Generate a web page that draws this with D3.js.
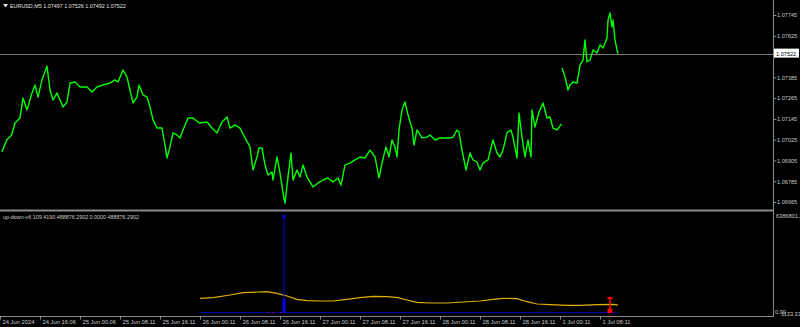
<!DOCTYPE html>
<html>
<head>
<meta charset="utf-8">
<script src="https://cdn.jsdelivr.net/npm/d3@7"></script>
<style>
body { margin: 0; background: #000; }
svg text { font-family: "Liberation Sans", Arial, sans-serif; font-size: 5.8px; fill: #c8c8c8; }
</style>
</head>
<body>
<svg width="800" height="327"></svg>
<script>
// EURUSD M5, hours of trading time counted from the first bar (24 Jun 2024)
var wk1Hours = [0, 0.94, 1.94, 2.6, 3.6, 4.2, 5, 6, 6.6, 7.2, 8, 9, 9.6, 10.2, 11, 11.6, 12.2, 13, 13.6, 14.6,
  15.6, 17, 18, 19, 20.2, 21.6, 22.6, 23.2, 24.2, 25, 25.6, 26.2, 27, 27.4, 28.2, 29, 29.6, 30.2, 31, 32,
  32.6, 33, 33.6, 34.2, 35, 35.6, 36.2, 37.2, 38.2, 39.2, 39.6, 41, 42, 43, 44, 45, 45.6, 46.6, 47.6, 48.6,
  49.6, 50.2, 51, 51.4, 52, 52.6, 53.2, 54, 54.2, 55, 55.6, 56.2, 56.6, 57.2, 57.8, 58.2, 59, 59.6, 60.2, 61,
  61.6, 62.2, 63.2, 64.2, 65.2, 66.2, 67.2, 67.8, 68.6, 69.6, 70.6, 71.6, 72.6, 73.6, 74.6, 75.4, 76, 76.8, 77.4, 78,
  78.6, 79, 79.4, 80, 80.6, 81.2, 82, 82.4, 83, 84, 85, 85.6, 86.6, 87.6, 88.6, 89.6, 90.2, 91, 91.4, 92,
  92.8, 93.6, 94.2, 95, 95.6, 96.2, 97.2, 98.2, 99, 99.6, 100.2, 101, 101.8, 102.2, 103, 103.4, 104, 104.6, 105.2, 105.8,
  106, 106.6, 107.4, 108.2, 109, 109.6, 110.2, 111, 111.9];
var wk1Close = [1.06956, 1.07023, 1.07052, 1.07121, 1.07150, 1.07266, 1.07196, 1.07295, 1.07341, 1.07271, 1.07370, 1.07450, 1.07312, 1.07254, 1.07295, 1.07254, 1.07214, 1.07243, 1.07352, 1.07358,
  1.07329, 1.07329, 1.07300, 1.07329, 1.07341, 1.07352, 1.07370, 1.07358, 1.07427, 1.07387, 1.07312, 1.07237, 1.07271, 1.07341, 1.07283, 1.07271, 1.07214, 1.07139, 1.07092, 1.07092,
  1.06994, 1.06919, 1.06983, 1.07064, 1.07052, 1.07035, 1.07081, 1.07150, 1.07150, 1.07127, 1.07121, 1.07127, 1.07092, 1.07064, 1.07127, 1.07156, 1.07092, 1.07110, 1.07092, 1.07035,
  1.06983, 1.06850, 1.06925, 1.06977, 1.06977, 1.06879, 1.06821, 1.06838, 1.06792, 1.06925, 1.06833, 1.06717, 1.06659, 1.06809, 1.06948, 1.06792, 1.06850, 1.06809, 1.06879, 1.06809,
  1.06781, 1.06752, 1.06775, 1.06792, 1.06804, 1.06781, 1.06804, 1.06763, 1.06879, 1.06890, 1.06908, 1.06925, 1.06919, 1.06965, 1.06925, 1.06804, 1.06890, 1.06983, 1.06925, 1.07023,
  1.06983, 1.06925, 1.07081, 1.07196, 1.07243, 1.07167, 1.07092, 1.06994, 1.07081, 1.07035, 1.07040, 1.07052, 1.07023, 1.07035, 1.07035, 1.07035, 1.07040, 1.07081, 1.07069, 1.06965,
  1.06850, 1.06948, 1.06908, 1.06896, 1.06850, 1.06890, 1.06908, 1.07023, 1.06948, 1.06925, 1.06965, 1.07064, 1.07081, 1.07040, 1.06919, 1.07179, 1.07040, 1.06925, 1.07023, 1.06925,
  1.07196, 1.07098, 1.07185, 1.07237, 1.07150, 1.07156, 1.07092, 1.07081, 1.07116];
var wk2Hours = [112, 112.6, 113.2, 113.6, 114.2, 115, 115.6, 116.2, 116.6, 117, 117.6, 118.2, 119, 119.6, 120.2, 121, 121.2, 121.6, 122, 122.2, 122.6, 123, 123.2];
var wk2Close = [1.07439, 1.07387, 1.07312, 1.07341, 1.07358, 1.07352, 1.07456, 1.07485, 1.07601, 1.07474, 1.07485, 1.07543, 1.07526, 1.07572, 1.07554, 1.07612, 1.07716, 1.07757, 1.07676, 1.07716, 1.07601, 1.07543, 1.07522];
var lastPrice = 1.07522;

var priceTicks = [1.07745, 1.07625, 1.07385, 1.07265, 1.07145, 1.07025, 1.06905, 1.06785, 1.06665];
var timeTickHours = [0, 8, 16, 24, 32, 40, 48, 56, 64, 72, 80, 88, 96, 104, 112, 120];
var timeTickLabels = ["24 Jun 2024", "24 Jun 16:06", "25 Jun 00:06", "25 Jun 08:11", "25 Jun 16:11", "26 Jun 00:11",
  "26 Jun 08:11", "26 Jun 16:11", "27 Jun 00:11", "27 Jun 08:11", "27 Jun 16:11", "28 Jun 00:11",
  "28 Jun 08:11", "28 Jun 16:11", "1 Jul 00:11", "1 Jul 08:11"];

// up-down-v6 indicator
var avgHours = [39.6, 42.2, 45.6, 48.2, 51, 53, 55, 57, 59, 61, 63.6, 66.2, 69, 71.6, 74.2, 77, 79.2, 81, 83, 85.6,
  89, 92.2, 95.6, 98.2, 100.2, 103, 105, 107, 109.6, 113, 115.6, 119, 122.2, 123.2];
var avgValues = [939800, 979500, 1158200, 1310400, 1356800, 1376600, 1270700, 1092000, 873600, 781000, 761100, 761100, 873600, 979500, 1072200, 1045700, 979500, 827300, 675100, 628700,
  628700, 694900, 761100, 873600, 939800, 913300, 714800, 562600, 516200, 476500, 476500, 516200, 542700, 488876];
var zeroHours = [39.6, 123.2];
var zeroValues = [0, 0];
var upHours = [56.4];
var upPeak = [6386801.2];
var upBody = [890000];
var downHours = [53.2, 54.2, 55.8, 121.6];
var downValues = [20000, 20000, 20000, 1030000];
var indMax = 6386801.2;

var svg = d3.select("svg");

svg.append("rect").attr("width", 800).attr("height", 327).attr("fill", "#000");

var x = d3.scaleLinear().domain([0, 154.2]).range([2, 773]);
var y = d3.scaleLinear().domain([1.06665, 1.07745]).range([202, 15]);
var yInd = d3.scaleLinear().domain([0, indMax]).range([312.5, 216]);

// frame lines
svg.append("line").attr("x1", 0).attr("x2", 773).attr("y1", 210.5).attr("y2", 210.5)
  .attr("stroke", "#8a8a8a").attr("stroke-width", 2);
svg.append("line").attr("x1", 773.5).attr("x2", 773.5).attr("y1", 0).attr("y2", 317)
  .attr("stroke", "#8a8a8a");
svg.append("line").attr("x1", 0).attr("x2", 773.5).attr("y1", 316.5).attr("y2", 316.5)
  .attr("stroke", "#8a8a8a");

// current price line
svg.append("line").attr("x1", 0).attr("x2", 773).attr("y1", Math.round(y(lastPrice)) + 0.5).attr("y2", Math.round(y(lastPrice)) + 0.5)
  .attr("stroke", "#7a7a7a");

var priceLine = d3.line().x(function (d) { return x(d[0]); }).y(function (d) { return y(d[1]); });

[[wk1Hours, wk1Close], [wk2Hours, wk2Close]].forEach(function (s) {
  svg.append("path")
    .datum(d3.zip(s[0], s[1]))
    .attr("fill", "none")
    .attr("stroke", "#00ff00")
    .attr("stroke-width", 1.4)
    .attr("stroke-linejoin", "round")
    .attr("d", priceLine);
});

// price axis
var yAxis = svg.append("g")
  .attr("transform", "translate(773.5,0)")
  .call(d3.axisRight(y).tickValues(priceTicks).tickFormat(d3.format(".5f")).tickSize(3));
yAxis.select(".domain").remove();
yAxis.selectAll("line").attr("stroke", "#8a8a8a");
yAxis.selectAll("text").attr("x", 3.5).attr("fill", "#c8c8c8").style("font-size", "5.6px")
  .style("font-family", "'Liberation Sans', Arial, sans-serif");

// current price label
var py = y(lastPrice);
svg.append("rect").attr("x", 774).attr("y", py - 5).attr("width", 25).attr("height", 9).attr("fill", "#fff");
svg.append("text").attr("x", 776).attr("y", py).attr("dy", "0.35em").style("fill", "#000").style("font-size", "5.6px")
  .text(d3.format(".5f")(lastPrice));

// title
svg.append("path").attr("d", "M3,4 L8,4 L5.5,7.5 Z").attr("fill", "#e0e0e0");
svg.append("text").attr("x", 10).attr("y", 6).attr("dy", "0.35em").style("font-size", "5.4px").style("fill", "#e0e0e0")
  .text("EURUSD,M5  1.07497 1.07526 1.07492 1.07522");

// indicator
var indLine = d3.line().x(function (d) { return x(d[0]); }).y(function (d) { return yInd(d[1]); });

svg.append("path").datum(d3.zip(zeroHours, zeroValues))
  .attr("fill", "none").attr("stroke", "#0000a8").attr("stroke-width", 1.2).attr("d", indLine);

svg.append("path").datum(d3.zip(avgHours, avgValues))
  .attr("fill", "none").attr("stroke", "#e0b000").attr("stroke-width", 1.2).attr("d", indLine);

svg.selectAll(".up-peak").data(d3.zip(upHours, upPeak)).enter().append("line")
  .attr("x1", function (d) { return x(d[0]); }).attr("x2", function (d) { return x(d[0]); })
  .attr("y1", yInd(0)).attr("y2", function (d) { return yInd(d[1]); })
  .attr("stroke", "#0000ff").attr("stroke-width", 1);
svg.selectAll(".up-cap").data(d3.zip(upHours, upPeak)).enter().append("rect")
  .attr("x", function (d) { return x(d[0]) - 1.5; }).attr("y", function (d) { return yInd(d[1]) - 1; })
  .attr("width", 3).attr("height", 3).attr("fill", "#0000ff");
svg.selectAll(".up-body").data(d3.zip(upHours, upBody)).enter().append("rect")
  .attr("x", function (d) { return x(d[0]) - 1.5; }).attr("y", function (d) { return yInd(d[1]); })
  .attr("width", 3).attr("height", function (d) { return yInd(0) - yInd(d[1]); }).attr("fill", "#0000ff");

var downs = svg.selectAll(".down").data(d3.zip(downHours, downValues)).enter().append("g");
downs.append("line")
  .attr("x1", function (d) { return x(d[0]); }).attr("x2", function (d) { return x(d[0]); })
  .attr("y1", yInd(0) + 0.5).attr("y2", function (d) { return yInd(d[1]); })
  .attr("stroke", "#ff0000").attr("stroke-width", 1.5);
downs.filter(function (d) { return d[1] > 100000; }).each(function (d) {
  var g = d3.select(this);
  g.append("rect").attr("x", x(d[0]) - 2.5).attr("y", yInd(d[1])).attr("width", 5).attr("height", 2.5).attr("fill", "#ff0000");
  g.append("rect").attr("x", x(d[0]) - 2.5).attr("y", yInd(0) - 4).attr("width", 5).attr("height", 4.5).attr("fill", "#ff0000");
});

svg.append("text").attr("x", 3).attr("y", 217).attr("dy", "0.35em").style("font-size", "5.4px")
  .text("up-down-v6 109.4190 488876.2902 0.0000 488876.2902");

svg.append("text").attr("x", 776).attr("y", yInd(indMax)).attr("dy", "0.35em").style("font-size", "5.6px")
  .text(d3.format(".1f")(indMax));
svg.append("text").attr("x", 781).attr("y", yInd(0) + 2).attr("dy", "0.35em").style("font-size", "5.6px").text("1133.33");
svg.append("text").attr("x", 775).attr("y", yInd(0)).attr("dy", "0.35em").style("font-size", "5.6px").text("0.00");

// time axis
var xAxis = svg.append("g")
  .attr("transform", "translate(0,316.5)")
  .call(d3.axisBottom(x).tickValues(timeTickHours)
    .tickFormat(function (d, i) { return timeTickLabels[i]; }).tickSize(3));
xAxis.select(".domain").remove();
xAxis.selectAll(".tick line").attr("stroke", "#8a8a8a").attr("transform", "translate(-2,0)");
xAxis.selectAll(".tick text").attr("text-anchor", "start").attr("x", 0).attr("y", 3.5)
  .attr("fill", "#c8c8c8").style("font-size", "5.8px").style("font-family", "'Liberation Sans', Arial, sans-serif");
</script>
</body>
</html>
